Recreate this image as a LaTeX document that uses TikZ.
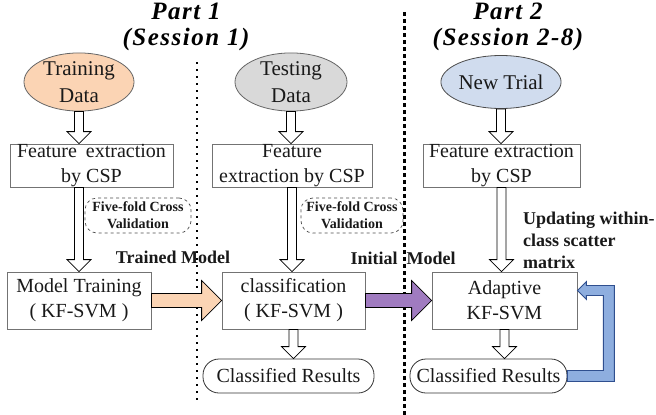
\documentclass[tikz,border=0pt]{standalone}
\usepackage{fontspec}
\setmainfont{Liberation Serif}
\newfontfamily\titlefont[LetterSpace=6]{Liberation Serif}
\usetikzlibrary{calc,shapes.geometric}
\definecolor{peach}{HTML}{FBD4B4}
\definecolor{grayfill}{HTML}{D9D9D9}
\definecolor{bluefill}{HTML}{D0DCEE}
\definecolor{purplefill}{HTML}{A07BC0}
\definecolor{fbblue}{HTML}{8EAEDF}
\definecolor{fbborder}{HTML}{2F4F8F}
\definecolor{boxline}{HTML}{737373}
\newcommand\downblock[2]{%
  \draw[blockarrow] let \p1=#1, \p2=#2 in
    (\x1-4.5pt,\y1) -- (\x1-4.5pt,\y2+12pt) -- (\x1-12pt,\y2+12pt) -- (\x1,\y2)
    -- (\x1+12pt,\y2+12pt) -- (\x1+4.5pt,\y2+12pt) -- (\x1+4.5pt,\y1) -- cycle;}
\newcommand\rightblock[3]{%
  \draw[blockarrow,fill=#3] let \p1=#1, \p2=#2 in
    (\x1,\y1+7pt) -- (\x2-20pt,\y1+7pt) -- (\x2-20pt,\y1+20pt) -- (\x2,\y1)
    -- (\x2-20pt,\y1-20pt) -- (\x2-20pt,\y1-7pt) -- (\x1,\y1-7pt) -- cycle;}
\begin{document}
\begin{tikzpicture}[x=1pt,y=-1pt,
  txt/.style={font=\fontsize{20}{25}\selectfont, text=black!90, align=center, inner sep=0pt},
  ell/.style={txt, font=\fontsize{21}{27}\selectfont, ellipse, draw=black!60, line width=0.8pt, minimum width=110pt, minimum height=53pt},
  box/.style={txt, rectangle, draw=boxline, line width=0.8pt, minimum height=43pt},
  bigbox/.style={box, minimum height=57pt},
  resbox/.style={txt, rectangle, rounded corners=16pt, draw=black!80, line width=0.8pt, minimum height=34pt},
  cvbox/.style={rectangle, rounded corners=12pt, draw=black!70, dashed, line width=0.7pt,
    font=\fontsize{14}{17}\selectfont\bfseries, text=black!90, align=center, inner sep=0pt,
    minimum height=35pt},
  lbl/.style={font=\fontsize{18}{22}\selectfont\bfseries, text=black!90, inner sep=0pt},
  ttl/.style={font=\titlefont\fontsize{25}{26}\selectfont\bfseries\itshape, align=center, inner sep=0pt},
  blockarrow/.style={draw=black, line width=0.8pt, fill=white, line join=miter},
  bluearrow/.style={draw=fbborder, line width=0.9pt, fill=fbblue, line join=miter}]
\useasboundingbox (0,0) rectangle (656,415);

% titles
\node[ttl] (t1) at (186,27) {Part 1\\(Session 1)};
\node[ttl] (t2) at (508,27) {Part 2\\(Session 2-8)};

% separators
\draw[line width=1.6pt, dash pattern=on 1.6pt off 5.4pt] (197,62) -- (197,400);
\draw[line width=3pt, dash pattern=on 4pt off 3pt] (404,12) -- (404,415);

% ellipses
\node[ell, fill=peach, minimum width=110pt] (tr) at (79,82) {Training\\Data};
\node[ell, fill=grayfill, minimum width=112pt] (te) at (291,82) {Testing\\Data};
\node[ell, fill=bluefill, minimum width=114pt, draw=black!70] (nt) at (501,82) {New Trial};

% feature boxes
\node[box, minimum width=163pt] (fe1) at (91.5,165.5) {Feature\hspace{0.45em}extraction\\by CSP};
\node[box, minimum width=160pt] (fe2) at (292,165.5) {Feature\\extraction by CSP};
\node[box, minimum width=157pt] (fe3) at (501.5,165.5) {Feature extraction\\by CSP};

% cross validation
\node[cvbox, minimum width=106pt] (cv1) at (138,215.5) {Five-fold Cross\\Validation};
\node[cvbox, minimum width=102pt] (cv2) at (352,215.5) {Five-fold Cross\\Validation};

% model boxes
\node[bigbox, minimum width=144pt] (mt) at (79,300.5) {Model Training\\( KF-SVM )};
\node[bigbox, minimum width=143pt] (cl) at (293.5,300.5) {classification\\( KF-SVM )};
\node[bigbox, minimum width=145pt] (ad) at (504.5,300.5) {Adaptive\\KF-SVM};

% results
\node[resbox, minimum width=171pt] (cr1) at (288.5,376) {Classified Results};
\node[resbox, minimum width=157pt] (cr2) at (488.5,376) {Classified Results};

% labels
\node[lbl] (lt) at (173,257) {Trained Model};
\node[lbl] (li) at (403,258) {Initial\hspace{0.5em}Model};
\node[lbl, anchor=west, align=left] (lu) at (523,240) {Updating within-\\class scatter\\matrix};

% hollow down arrows
\downblock{(tr.south)}{(fe1.north)}
\downblock{(te.south)}{(fe2.north)}
\downblock{(nt.south)}{(fe3.north)}
\downblock{(fe1.south -| mt.north)}{(mt.north)}
\downblock{(fe2.south)}{(cl.north)}
\downblock{(fe3.south)}{(ad.north)}
\downblock{(cl.south)}{(cr1.north)}
\downblock{(ad.south)}{(cr2.north)}

% right block arrows
\rightblock{(mt.east)}{(cl.west)}{peach}
\rightblock{(cl.east)}{(ad.west)}{purplefill}

% feedback arrow
\draw[bluearrow] let \p1=(cr2.east), \p2=($(ad.east)+(0,-10)$) in
  (\x1,\y1+5.5pt) -- (\x1+36pt,\y1+5.5pt) -- (\x1+36pt,\y2-5pt) -- (\x2+9pt,\y2-5pt)
  -- (\x2+9pt,\y2-9pt) -- (\x2,\y2) -- (\x2+9pt,\y2+9pt) -- (\x2+9pt,\y2+5pt)
  -- (\x1+47pt,\y2+5pt) -- (\x1+47pt,\y1-5.5pt) -- (\x1,\y1-5.5pt) -- cycle;
\end{tikzpicture}
\end{document}
